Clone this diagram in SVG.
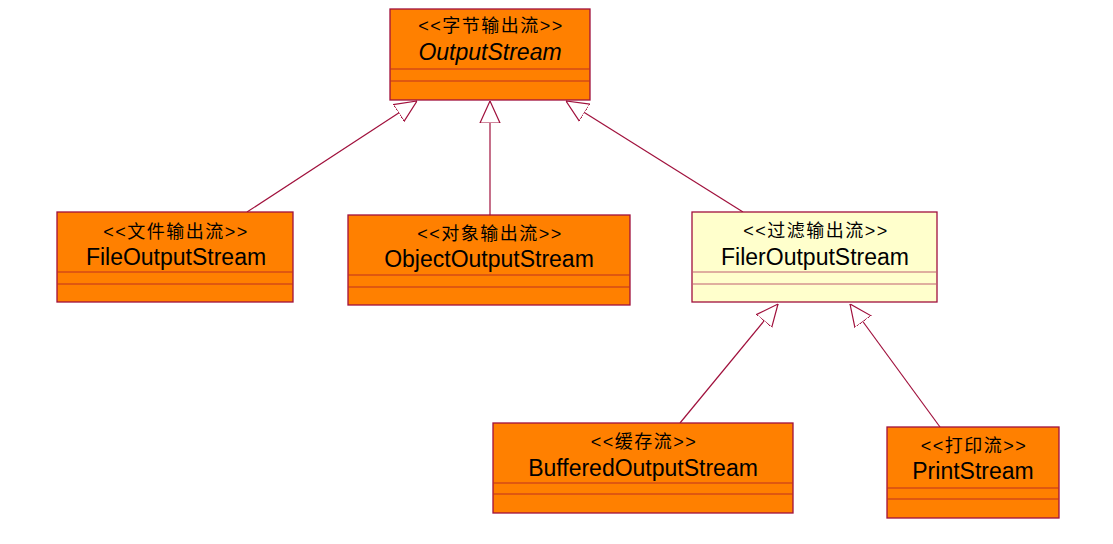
<svg xmlns="http://www.w3.org/2000/svg" width="1113" height="544" viewBox="0 0 1113 544">
<style>
.box{fill:#ff8000;stroke:#a0103c;stroke-width:1.3}
.yel{fill:#ffffcc;stroke:#a0103c;stroke-width:1.3}
.sep{stroke:#c03020;stroke-width:1.2}
.sepy{stroke:#c06070;stroke-width:1.2}
.st{font-family:"Liberation Sans","Noto Sans CJK SC",sans-serif;font-size:18px;letter-spacing:1.5px;fill:#000;text-anchor:middle}
.nm{font-family:"Liberation Sans","Noto Sans CJK SC",sans-serif;font-size:23px;fill:#000;text-anchor:middle}
.ln{stroke:#a0103c;stroke-width:1.2;fill:none;marker-end:url(#tri)}
</style>
<defs>
<marker id="tri" viewBox="0 0 22 22" refX="22" refY="11" markerWidth="22" markerHeight="22" markerUnits="userSpaceOnUse" orient="auto">
<path d="M0,1 L22,11 L0,21 Z" fill="#fff" stroke="#a0103c" stroke-width="1.2"/>
</marker>
</defs>
<rect width="1113" height="544" fill="#fff"/>
<g id="connectors">
<line class="ln" x1="247" y1="212" x2="417" y2="101"/>
<line class="ln" x1="490" y1="215" x2="490" y2="101"/>
<line class="ln" x1="743" y1="212" x2="566" y2="101"/>
<line class="ln" x1="680" y1="423" x2="778" y2="304"/>
<line class="ln" x1="940" y1="427" x2="850" y2="304"/>
</g>
<g id="OutputStream">
<rect class="box" x="390" y="9" width="200" height="91"/>
<line class="sep" x1="390" y1="69" x2="590" y2="69"/>
<line class="sep" x1="390" y1="81" x2="590" y2="81"/>
<text class="st" x="491" y="32">&lt;&lt;字节输出流&gt;&gt;</text>
<text class="nm" x="490" y="60" font-style="italic">OutputStream</text>
</g>
<g id="FileOutputStream">
<rect class="box" x="57" y="212" width="236" height="90"/>
<line class="sep" x1="57" y1="272" x2="293" y2="272"/>
<line class="sep" x1="57" y1="284" x2="293" y2="284"/>
<text class="st" x="176" y="238">&lt;&lt;文件输出流&gt;&gt;</text>
<text class="nm" x="176" y="265">FileOutputStream</text>
</g>
<g id="ObjectOutputStream">
<rect class="box" x="348" y="215" width="282" height="90"/>
<line class="sep" x1="348" y1="275" x2="630" y2="275"/>
<line class="sep" x1="348" y1="287" x2="630" y2="287"/>
<text class="st" x="490" y="240">&lt;&lt;对象输出流&gt;&gt;</text>
<text class="nm" x="489" y="267">ObjectOutputStream</text>
</g>
<g id="FilerOutputStream">
<rect class="yel" x="692" y="212" width="245" height="90"/>
<line class="sepy" x1="692" y1="272" x2="937" y2="272"/>
<line class="sepy" x1="692" y1="284" x2="937" y2="284"/>
<text class="st" x="816" y="237">&lt;&lt;过滤输出流&gt;&gt;</text>
<text class="nm" x="815" y="265">FilerOutputStream</text>
</g>
<g id="BufferedOutputStream">
<rect class="box" x="493" y="423" width="300" height="90"/>
<line class="sep" x1="493" y1="483" x2="793" y2="483"/>
<line class="sep" x1="493" y1="494" x2="793" y2="494"/>
<text class="st" x="644" y="448">&lt;&lt;缓存流&gt;&gt;</text>
<text class="nm" x="643" y="476">BufferedOutputStream</text>
</g>
<g id="PrintStream">
<rect class="box" x="887" y="427" width="172" height="91"/>
<line class="sep" x1="887" y1="488" x2="1059" y2="488"/>
<line class="sep" x1="887" y1="499" x2="1059" y2="499"/>
<text class="st" x="974" y="452">&lt;&lt;打印流&gt;&gt;</text>
<text class="nm" x="973" y="479">PrintStream</text>
</g>
</svg>
